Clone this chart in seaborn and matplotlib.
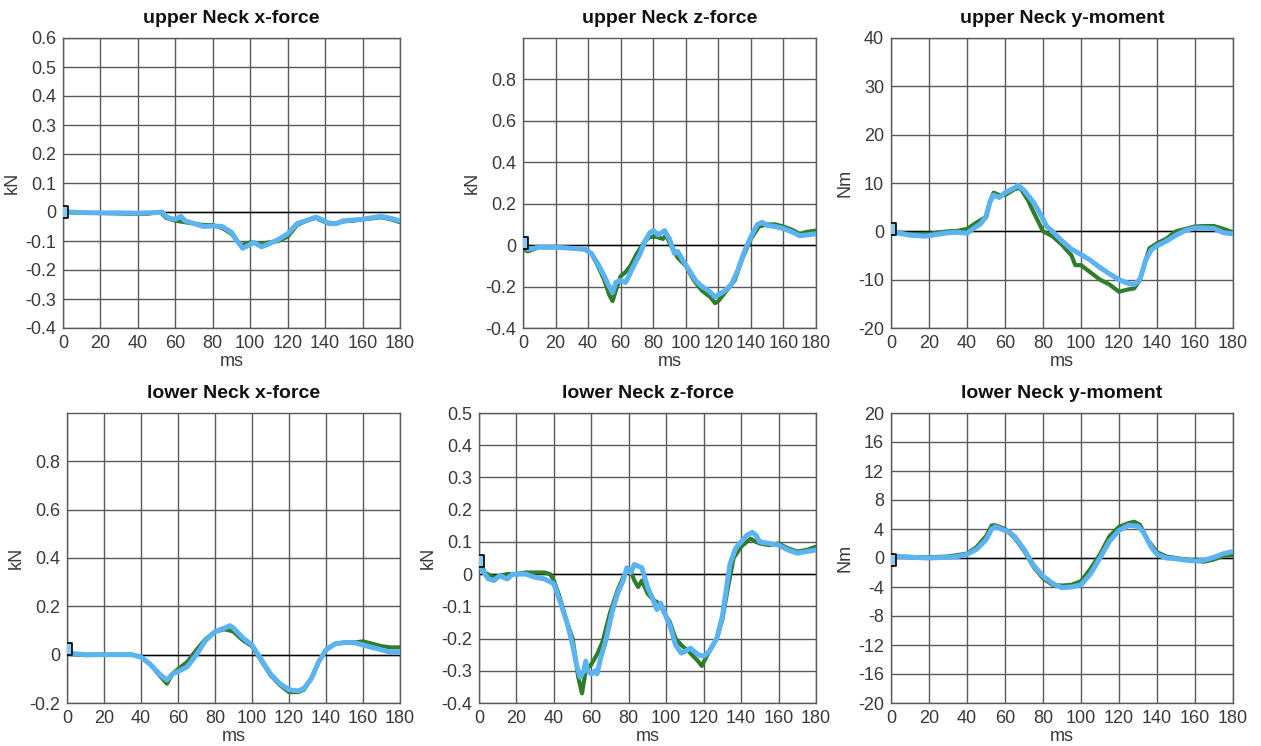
import numpy as np
import pandas as pd
import matplotlib
matplotlib.use("Agg")
import matplotlib.pyplot as plt
import seaborn as sns

sns.set_style("white")
plt.rcParams['font.family'] = ['Liberation Sans', 'DejaVu Sans']

# ---------------- data ----------------
# upper Neck x-force (kN)
t1_blue = [0, 3, 10, 20, 30, 40, 50, 53, 55, 57, 60, 63, 65, 70, 75, 80, 85, 90, 93, 96, 99, 102, 106, 110, 115, 120, 125, 130, 135, 138, 142, 146, 150, 155, 160, 165, 170, 175, 180]
v1_blue = [0.005, 0.0, -0.002, -0.003, -0.003, -0.004, -0.002, 0.0, -0.015, -0.022, -0.025, -0.015, -0.03, -0.04, -0.05, -0.048, -0.05, -0.07, -0.1, -0.125, -0.115, -0.105, -0.12, -0.11, -0.095, -0.075, -0.04, -0.03, -0.018, -0.025, -0.04, -0.04, -0.03, -0.028, -0.025, -0.02, -0.015, -0.022, -0.03]
t1_green = [0, 5, 15, 25, 35, 45, 52, 55, 60, 65, 70, 75, 80, 85, 90, 95, 100, 105, 110, 115, 120, 125, 130, 135, 140, 145, 150, 155, 160, 165, 170, 175, 180]
v1_green = [0.0, -0.002, -0.003, -0.004, -0.006, -0.006, 0.0, -0.02, -0.03, -0.035, -0.04, -0.045, -0.045, -0.055, -0.075, -0.115, -0.105, -0.11, -0.105, -0.1, -0.085, -0.045, -0.03, -0.02, -0.035, -0.04, -0.032, -0.03, -0.025, -0.022, -0.018, -0.025, -0.035]

# upper Neck z-force (kN)
t2_blue = [0, 3, 10, 20, 30, 38, 42, 46, 50, 53, 55, 57, 60, 63, 65, 68, 72, 75, 78, 80, 83, 87, 90, 93, 95, 98, 102, 106, 110, 114, 118, 120, 124, 128, 132, 136, 140, 144, 147, 150, 155, 160, 165, 170, 175, 180]
v2_blue = [0.01, -0.02, -0.01, -0.01, -0.015, -0.02, -0.04, -0.09, -0.15, -0.2, -0.23, -0.18, -0.17, -0.18, -0.15, -0.1, -0.04, 0.02, 0.06, 0.07, 0.05, 0.07, 0.03, -0.04, -0.03, -0.07, -0.12, -0.17, -0.2, -0.22, -0.25, -0.24, -0.22, -0.19, -0.12, -0.03, 0.04, 0.1, 0.11, 0.095, 0.09, 0.08, 0.065, 0.045, 0.05, 0.055]
t2_green = [0, 3, 10, 20, 30, 38, 42, 46, 50, 53, 55, 57, 60, 63, 66, 70, 75, 78, 82, 86, 88, 90, 95, 100, 105, 110, 115, 118, 120, 125, 130, 135, 140, 145, 150, 155, 160, 165, 170, 175, 180]
v2_green = [-0.02, -0.03, -0.01, -0.01, -0.015, -0.02, -0.04, -0.1, -0.17, -0.24, -0.27, -0.22, -0.15, -0.13, -0.1, -0.04, 0.02, 0.04, 0.04, 0.03, 0.05, 0.01, -0.06, -0.1, -0.17, -0.22, -0.25, -0.28, -0.27, -0.22, -0.17, -0.06, 0.03, 0.09, 0.1, 0.1, 0.09, 0.075, 0.055, 0.065, 0.07]

# upper Neck y-moment (Nm)
t3_blue = [0, 3, 10, 18, 25, 30, 35, 40, 43, 47, 50, 52, 54, 57, 60, 65, 67, 70, 75, 78, 82, 85, 90, 95, 100, 105, 110, 115, 120, 125, 128, 131, 134, 137, 140, 145, 150, 155, 160, 165, 170, 175, 180]
v3_blue = [1.0, -0.3, -0.8, -1.0, -0.6, -0.3, -0.2, -0.4, 0.5, 1.5, 3.0, 6.0, 7.5, 7.0, 8.0, 9.0, 9.5, 8.5, 6.0, 4.0, 1.0, 0.0, -2.0, -3.7, -4.8, -6.0, -7.5, -8.8, -10.0, -10.8, -11.0, -10.0, -6.0, -3.8, -3.0, -2.0, -0.8, 0.2, 0.7, 0.7, 0.6, -0.3, -0.5]
t3_green = [0, 5, 10, 20, 30, 35, 40, 45, 50, 52, 54, 57, 60, 65, 68, 72, 75, 80, 85, 90, 95, 97, 100, 105, 110, 115, 120, 125, 128, 131, 134, 136, 140, 145, 150, 155, 160, 165, 170, 175, 180]
v3_green = [0.0, -0.3, -0.6, -0.5, 0.0, 0.1, 0.5, 1.8, 3.0, 6.0, 8.0, 7.5, 7.5, 8.7, 9.0, 6.5, 4.0, 0.0, -1.0, -2.8, -5.0, -7.0, -7.0, -8.5, -10.0, -11.0, -12.5, -12.0, -11.8, -10.0, -6.0, -3.5, -2.5, -1.5, 0.0, 0.5, 1.0, 1.1, 1.1, 0.5, -0.2]

# lower Neck x-force (kN)
t4_blue = [0, 2, 10, 20, 30, 35, 40, 45, 50, 54, 57, 60, 65, 70, 75, 80, 85, 88, 90, 95, 100, 105, 110, 115, 120, 125, 128, 132, 136, 140, 145, 150, 155, 160, 165, 170, 175, 180]
v4_blue = [0.02, 0.005, 0.0, 0.0, 0.0, 0.0, -0.01, -0.04, -0.08, -0.105, -0.08, -0.07, -0.05, 0.0, 0.06, 0.095, 0.11, 0.12, 0.11, 0.07, 0.04, -0.02, -0.08, -0.12, -0.145, -0.15, -0.14, -0.1, -0.03, 0.02, 0.045, 0.05, 0.05, 0.04, 0.03, 0.02, 0.01, 0.01]
t4_green = [0, 2, 10, 20, 30, 35, 40, 45, 50, 54, 57, 60, 65, 70, 75, 80, 85, 88, 90, 95, 100, 105, 110, 115, 120, 125, 128, 132, 136, 140, 145, 150, 155, 160, 165, 170, 175, 180]
v4_green = [0.01, 0.003, -0.002, 0.0, 0.0, 0.0, -0.01, -0.04, -0.085, -0.12, -0.08, -0.06, -0.03, 0.02, 0.065, 0.095, 0.105, 0.1, 0.095, 0.06, 0.035, -0.025, -0.085, -0.125, -0.155, -0.155, -0.145, -0.1, -0.03, 0.02, 0.045, 0.05, 0.05, 0.055, 0.045, 0.035, 0.03, 0.03]

# lower Neck z-force (kN)
t5_blue = [0, 2, 5, 8, 11, 13, 15, 18, 25, 30, 35, 40, 43, 47, 50, 52, 54, 56, 57, 58, 60, 62, 63, 65, 68, 71, 74, 77, 79, 81, 83, 85, 87, 90, 93, 95, 97, 99, 102, 105, 108, 110, 113, 117, 120, 123, 127, 130, 132, 134, 137, 140, 143, 146, 148, 150, 155, 160, 165, 170, 175, 180]
v5_blue = [0.04, 0.01, -0.015, -0.02, -0.005, -0.01, -0.015, 0.0, 0.0, -0.01, -0.015, -0.03, -0.08, -0.15, -0.22, -0.28, -0.32, -0.3, -0.27, -0.3, -0.31, -0.3, -0.31, -0.26, -0.2, -0.12, -0.06, -0.02, 0.02, 0.005, 0.03, 0.025, 0.02, -0.04, -0.08, -0.11, -0.09, -0.12, -0.16, -0.22, -0.245, -0.24, -0.23, -0.25, -0.255, -0.24, -0.2, -0.13, -0.05, 0.03, 0.08, 0.1, 0.12, 0.13, 0.12, 0.1, 0.095, 0.09, 0.075, 0.065, 0.07, 0.075]
t5_green = [0, 3, 8, 15, 20, 25, 30, 35, 38, 40, 43, 47, 50, 53, 55, 57, 60, 63, 66, 70, 74, 77, 79, 81, 83, 85, 87, 90, 93, 96, 99, 102, 105, 108, 112, 117, 119, 122, 127, 130, 133, 136, 140, 145, 148, 150, 155, 160, 165, 170, 175, 180]
v5_green = [0.05, 0.005, -0.01, 0.0, 0.0, 0.005, 0.005, 0.005, 0.0, -0.02, -0.07, -0.15, -0.2, -0.32, -0.37, -0.3, -0.28, -0.25, -0.21, -0.12, -0.05, -0.01, 0.01, 0.01, -0.02, -0.04, -0.02, -0.06, -0.08, -0.09, -0.12, -0.15, -0.2, -0.22, -0.24, -0.27, -0.285, -0.25, -0.2, -0.14, -0.04, 0.05, 0.085, 0.11, 0.1, 0.095, 0.09, 0.095, 0.08, 0.07, 0.075, 0.085]

# lower Neck y-moment (Nm)
t6_blue = [0, 5, 10, 20, 30, 35, 40, 45, 50, 53, 55, 58, 62, 65, 70, 75, 80, 85, 90, 95, 100, 105, 110, 115, 120, 125, 130, 133, 137, 140, 145, 150, 155, 160, 165, 170, 175, 180]
v6_blue = [0.2, 0.2, 0.1, 0.0, 0.1, 0.2, 0.5, 1.2, 2.5, 4.0, 4.3, 4.0, 3.6, 3.0, 1.2, -1.0, -2.5, -3.5, -4.1, -4.0, -3.7, -2.2, 0.0, 2.3, 3.8, 4.5, 4.4, 3.5, 1.5, 0.5, 0.0, -0.1, -0.3, -0.4, -0.3, 0.1, 0.6, 0.9]
t6_green = [0, 10, 20, 30, 35, 40, 45, 50, 53, 55, 60, 65, 70, 75, 80, 85, 90, 95, 100, 105, 110, 115, 120, 125, 128, 131, 135, 140, 145, 150, 155, 160, 165, 170, 175, 180]
v6_green = [0.2, 0.15, 0.1, 0.2, 0.4, 0.6, 1.5, 3.0, 4.5, 4.5, 4.0, 2.8, 1.0, -1.2, -2.8, -3.7, -3.8, -3.7, -3.2, -1.5, 0.5, 3.0, 4.3, 4.8, 5.0, 4.6, 2.5, 0.8, 0.2, 0.0, -0.2, -0.4, -0.5, -0.2, 0.3, 0.4]

titles = ["upper Neck x-force", "upper Neck z-force", "upper Neck y-moment",
          "lower Neck x-force", "lower Neck z-force", "lower Neck y-moment"]
units = ["kN", "kN", "Nm", "kN", "kN", "Nm"]
ylims = [(-0.4, 0.6), (-0.4, 1.0), (-20, 40), (-0.2, 1.0), (-0.4, 0.5), (-20, 20)]
yticks = [np.round(np.arange(-0.4, 0.61, 0.1), 1),
          np.round(np.arange(-0.4, 0.81, 0.2), 1),
          np.arange(-20, 41, 10),
          np.round(np.arange(-0.2, 0.81, 0.2), 1),
          np.round(np.arange(-0.4, 0.51, 0.1), 1),
          np.arange(-20, 21, 4)]
start_marker = [0.0, 0.01, 0.5, 0.025, 0.04, -0.3]
xticks = list(range(0, 181, 20))

series = [(t1_blue, v1_blue, t1_green, v1_green),
          (t2_blue, v2_blue, t2_green, v2_green),
          (t3_blue, v3_blue, t3_green, v3_green),
          (t4_blue, v4_blue, t4_green, v4_green),
          (t5_blue, v5_blue, t5_green, v5_green),
          (t6_blue, v6_blue, t6_green, v6_green)]

# axes boxes in pixels: left, right, top, bottom
boxes = [(63, 400, 38, 328), (523, 816, 38, 328), (891, 1233, 38, 328),
         (67, 400, 413, 703), (479, 816, 413, 703), (891, 1233, 413, 703)]

W, H = 1261, 746
fig = plt.figure(figsize=(W / 100, H / 100), dpi=100)

GREEN = "#2f7d2a"
BLUE = "#5cb3f2"
GRID = "#5a5a5a"
TXT = "#3a3a3a"

def fmt(v):
    if abs(v) < 1e-9:
        return "0"
    if float(v).is_integer():
        return str(int(v))
    return f"{v:g}"

rect_marker = [(-0.5, -1), (0.5, -1), (0.5, 1), (-0.5, 1), (-0.5, -1)]

for i in range(6):
    l, r, tp, bt = boxes[i]
    ax = fig.add_axes([l / W, 1 - bt / H, (r - l) / W, (bt - tp) / H])
    tb, vb, tg, vg = series[i]
    dg = pd.DataFrame({"t": tg, "v": vg})
    db = pd.DataFrame({"t": tb, "v": vb})
    sns.lineplot(data=dg, x="t", y="v", ax=ax, color=GREEN, lw=3.0, zorder=3)
    sns.lineplot(data=db, x="t", y="v", ax=ax, color=BLUE, lw=3.6, zorder=4)
    ax.axhline(0, color="black", lw=1.0, zorder=2)
    ax.plot([1], [start_marker[i]], marker=rect_marker, markersize=9,
            markerfacecolor="#8cc8f0", markeredgecolor="black", markeredgewidth=1.2,
            linestyle="none", zorder=5)
    ax.set_xlim(0, 180)
    ax.set_ylim(*ylims[i])
    ax.set_xticks(xticks)
    ax.set_xticklabels([str(x) for x in xticks])
    ax.set_yticks(yticks[i])
    ax.set_yticklabels([fmt(v) for v in yticks[i]])
    ax.grid(True, color=GRID, lw=1.0)
    ax.set_axisbelow(True)
    for s in ax.spines.values():
        s.set_color(GRID)
        s.set_linewidth(1.0)
    ax.tick_params(axis="both", which="both", length=4, width=1.0, color=GRID,
                   labelsize=13, labelcolor=TXT, pad=1)
    ax.set_xlabel("ms", fontsize=13, color=TXT, labelpad=1)
    ax.set_ylabel(units[i], fontsize=13, color=TXT, labelpad=3)
    ax.set_title(titles[i], fontsize=14, fontweight="bold", color="#111111", pad=11)

fig.savefig("out.png", dpi=100)
